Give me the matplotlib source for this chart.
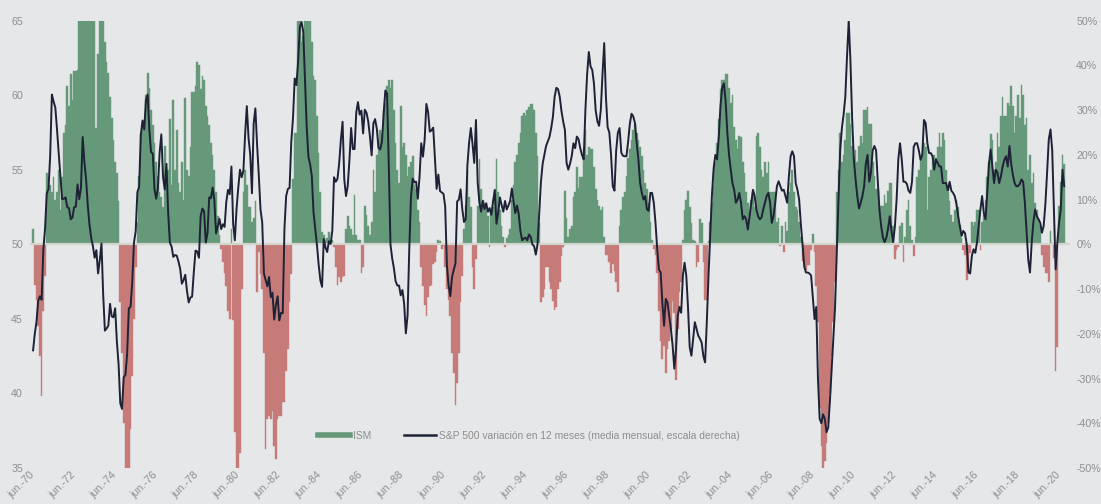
import numpy as np
import pandas as pd
import matplotlib
matplotlib.use("Agg")
import matplotlib.pyplot as plt
from matplotlib.lines import Line2D

plt.rcParams['font.family'] = ['Liberation Sans', 'DejaVu Sans']

# ---------------- data (monthly, Jun-1970 .. Sep-2020) ----------------
start_month = "1970-06"

ism = [
    51.0, 47.3, 46.3, 44.5, 42.5, 39.8, 45.5,                                  # 1970 (Jun-Dec)
    47.9, 54.8, 53.5, 54.0, 53.5, 54.5, 53.0, 53.5, 55.0, 52.3, 54.5, 57.5,    # 1971
    58.0, 60.6, 59.3, 61.4, 59.7, 61.6, 61.6, 61.7, 66.0, 67.0, 68.0, 68.0,    # 1972
    68.5, 69.0, 69.5, 68.0, 67.0, 66.0, 57.8, 62.8, 66.0, 67.0, 66.0, 63.6,    # 1973
    62.2, 61.5, 59.9, 58.5, 57.0, 55.5, 54.8, 52.9, 46.1, 42.7, 38.0, 33.0,    # 1974
    31.0, 33.0, 37.6, 41.2, 45.0, 48.5, 51.5, 54.6, 57.5, 58.0, 58.1, 60.0,    # 1975
    61.5, 60.5, 59.0, 58.0, 56.8, 55.5, 54.6, 53.5, 53.2, 52.5, 56.6, 54.5,    # 1976
    55.0, 58.4, 54.0, 59.7, 55.0, 57.7, 54.1, 53.5, 55.5, 53.0, 59.8, 55.0,    # 1977
    54.6, 56.5, 60.2, 60.2, 60.6, 62.2, 62.0, 60.4, 61.3, 61.0, 59.3, 58.6,    # 1978
    58.0, 56.8, 56.0, 55.0, 53.5, 51.9, 50.6, 49.7, 48.8, 48.1, 47.2, 45.5,    # 1979
    45.0, 51.0, 44.9, 37.4, 31.0, 32.0, 36.0, 47.0, 53.5, 55.0, 54.0, 52.5,    # 1980
    52.5, 51.5, 51.8, 52.9, 46.8, 49.5, 48.0, 47.0, 42.7, 36.3, 38.3, 38.5,    # 1981
    38.3, 38.8, 36.5, 35.6, 38.3, 38.5, 38.5, 39.4, 39.4, 41.5, 43.0, 46.1,    # 1982
    48.0, 54.4, 57.5, 57.5, 65.5, 66.0, 63.6, 64.0, 66.0, 68.0, 69.5, 69.9,    # 1983
    63.6, 61.3, 61.0, 58.6, 56.1, 53.5, 50.8, 50.6, 50.3, 50.4, 50.8, 50.3,    # 1984
    50.3, 49.8, 48.5, 47.3, 47.8, 47.5, 47.8, 47.9, 51.0, 51.9, 51.2, 51.0,    # 1985
    50.6, 53.3, 50.6, 50.3, 50.3, 48.1, 48.5, 52.6, 52.0, 51.2, 50.6, 51.5,    # 1986
    55.0, 53.5, 56.0, 57.0, 57.7, 57.5, 59.0, 59.5, 60.6, 61.0, 60.5, 61.0,    # 1987
    59.0, 56.8, 55.0, 54.1, 59.3, 56.5, 56.8, 56.0, 54.6, 55.2, 55.5, 55.9,    # 1988
    54.0, 53.7, 52.3, 51.5, 48.5, 47.2, 45.9, 45.2, 46.5, 47.2, 47.3, 48.7,    # 1989
    48.8, 49.5, 50.3, 50.2, 49.7, 49.9, 48.5, 47.0, 46.3, 45.2, 42.7, 41.4,    # 1990
    39.2, 40.7, 42.7, 46.1, 47.9, 51.0, 52.6, 55.0, 53.2, 52.5, 48.5, 47.0,    # 1991
    49.0, 52.6, 55.7, 53.7, 53.0, 52.8, 52.5, 51.9, 49.8, 52.3, 52.5, 53.7,    # 1992
    55.7, 53.5, 52.3, 51.2, 50.5, 49.8, 50.4, 50.6, 51.0, 53.0, 54.0, 55.5,    # 1993
    56.0, 56.8, 57.5, 58.6, 58.8, 58.6, 59.0, 59.2, 59.4, 59.4, 59.0, 57.5,    # 1994
    55.9, 51.4, 46.1, 46.5, 47.0, 48.5, 48.5, 47.5, 47.0, 46.2, 45.6, 45.8,    # 1995
    47.0, 47.5, 49.2, 49.8, 53.6, 51.8, 50.5, 51.0, 51.2, 53.2, 53.5, 55.2,    # 1996
    53.8, 54.5, 54.5, 56.4, 57.7, 56.0, 56.5, 56.4, 56.4, 55.2, 53.7, 53.0,    # 1997
    52.6, 52.3, 52.5, 50.5, 49.3, 49.3, 48.8, 48.1, 48.7, 48.2, 47.5, 46.8,    # 1998
    51.2, 52.3, 53.2, 53.5, 54.6, 55.8, 56.4, 57.0, 57.7, 58.1, 57.5, 57.0,    # 1999
    56.5, 55.9, 55.0, 54.1, 53.7, 52.8, 51.5, 50.3, 49.7, 49.3, 48.1, 45.5,    # 2000
    43.5, 42.3, 43.2, 41.4, 43.0, 43.5, 44.3, 46.2, 45.4, 40.9, 44.3, 46.8,    # 2001
    47.5, 50.3, 52.3, 53.0, 53.6, 52.5, 51.4, 50.3, 50.2, 48.5, 48.8, 51.7,    # 2002
    51.4, 48.8, 46.3, 46.3, 50.2, 51.5, 52.8, 54.0, 55.5, 56.8, 58.4, 60.4,    # 2003
    61.0, 61.0, 61.4, 61.4, 60.5, 59.5, 60.0, 57.9, 57.0, 56.4, 57.3, 57.2,    # 2004
    55.5, 54.8, 53.5, 52.8, 51.5, 53.0, 53.5, 52.5, 57.3, 57.5, 56.5, 55.0,    # 2005
    54.5, 55.5, 54.8, 55.5, 53.5, 53.5, 53.5, 53.5, 51.5, 51.8, 49.9, 51.2,    # 2006
    49.5, 51.5, 50.9, 53.5, 54.1, 55.0, 53.5, 52.5, 52.3, 51.5, 50.5, 48.9,    # 2007
    48.8, 48.3, 48.6, 48.6, 49.6, 50.7, 49.5, 47.2, 44.8, 39.0, 36.5, 33.0,    # 2008
    35.5, 36.7, 38.0, 40.0, 42.5, 44.8, 47.5, 53.5, 55.0, 57.5, 55.5, 56.0,    # 2009
    57.0, 58.8, 58.8, 58.1, 56.6, 55.9, 56.3, 55.5, 56.6, 57.3, 56.8, 59.0,    # 2010
    59.0, 59.2, 58.1, 58.1, 55.5, 54.6, 53.7, 53.7, 51.9, 52.6, 52.6, 53.3,    # 2011
    52.8, 53.6, 54.1, 54.1, 51.2, 49.0, 49.6, 49.8, 51.2, 51.4, 48.8, 50.5,    # 2012
    52.3, 53.0, 51.2, 50.3, 49.2, 50.5, 54.5, 55.0, 55.9, 55.9, 56.8, 56.5,    # 2013
    52.3, 54.5, 55.0, 55.5, 56.0, 55.8, 56.5, 57.5, 56.5, 57.5, 57.0, 55.0,    # 2014
    53.5, 52.9, 52.0, 51.5, 52.3, 53.0, 52.5, 51.3, 50.4, 49.6, 49.3, 47.6,    # 2015
    48.5, 49.4, 51.5, 51.2, 51.5, 52.3, 52.3, 49.6, 51.5, 52.0, 53.0, 54.5,    # 2016
    55.5, 57.4, 57.0, 55.0, 55.5, 57.5, 56.5, 58.6, 59.9, 58.6, 58.6, 59.5,    # 2017
    59.3, 60.6, 59.3, 57.5, 58.6, 60.0, 58.5, 60.7, 60.0, 58.0, 58.5, 55.0,    # 2018
    56.0, 54.1, 54.8, 52.8, 52.3, 51.8, 51.3, 49.3, 48.5, 48.1, 48.1, 47.5,    # 2019
    50.9, 50.1, 49.1, 41.5, 43.1, 52.6, 54.2, 56.0, 55.4,                      # 2020 (Jan-Sep)
]

sp500_yoy = [
    -23.7, -20.0, -17.3, -12.6, -11.6, -12.4, -1.2,                            # 1970
    3.5, 11.4, 12.3, 19.8, 33.5, 31.9, 30.6, 25.7, 20.3, 15.3, 10.1, 10.2,     # 1971
    10.5, 8.3, 8.1, 5.6, 6.0, 8.3, 8.4, 13.4, 10.1, 12.6, 24.0, 18.4,          # 1972
    14.6, 8.6, 4.4, 1.4, -0.4, -3.0, -1.3, -6.5, -3.5, 0.2, -11.3, -19.3,      # 1973
    -18.8, -18.2, -13.3, -16.1, -16.3, -14.3, -21.7, -26.8, -35.5, -36.8, -29.7, -29.2,  # 1974
    -24.5, -14.3, -14.0, -8.4, 0.4, 2.9, 11.7, 12.8, 24.4, 27.7, 25.7, 32.2,   # 1975
    33.5, 25.6, 20.6, 20.3, 12.3, 10.2, 12.6, 20.5, 24.6, 15.0, 12.3, 18.0,    # 1976
    7.0, 0.4, -0.5, -2.8, -2.4, -2.5, -3.8, -5.4, -8.8, -8.0, -6.8, -10.4,     # 1977
    -13.0, -11.9, -11.7, -6.2, -1.4, -1.6, -3.0, 6.3, 8.0, 7.4, 0.4, 2.5,      # 1978
    10.5, 10.3, 12.7, 9.9, 2.4, 4.1, 5.7, 3.4, 4.5, 3.9, 9.5, 12.2,            # 1979
    11.2, 17.4, 4.6, 0.9, 8.0, 12.7, 16.7, 15.0, 16.5, 24.6, 30.9, 23.8,       # 1980
    20.0, 11.4, 27.0, 30.4, 22.3, 15.4, 7.8, 4.9, -6.5, -8.0, -9.4, -7.3,      # 1981
    -11.8, -10.8, -16.8, -13.5, -11.6, -17.0, -15.3, -15.4, 3.5, 10.8, 12.4, 12.6,  # 1982
    23.0, 28.2, 37.1, 35.6, 40.9, 48.6, 49.7, 47.5, 36.6, 26.4, 19.6, 17.9,    # 1983
    15.3, 7.2, 3.6, -0.1, -4.5, -8.0, -9.5, 1.2, -0.7, -1.7, 0.7, 0.1,         # 1984
    3.1, 15.0, 14.0, 14.6, 18.1, 23.4, 27.4, 14.5, 10.8, 13.0, 18.8, 26.0,     # 1985
    21.3, 21.3, 29.5, 31.8, 29.0, 29.9, 24.8, 30.1, 29.4, 27.5, 24.1, 19.9,    # 1986
    27.0, 28.0, 25.9, 21.6, 21.2, 22.9, 29.1, 34.4, 33.7, 18.0, 0.0, -3.1,     # 1987
    -5.3, -8.2, -9.2, -9.2, -11.4, -10.2, -13.3, -19.9, -15.9, -1.0, 10.6, 14.7,  # 1988
    13.9, 14.0, 10.2, 15.1, 22.6, 19.6, 23.4, 31.4, 29.6, 25.2, 25.5, 26.1,    # 1989
    19.1, 12.4, 15.6, 11.9, 11.6, 11.3, 8.5, -4.6, -9.2, -11.6, -7.3, -5.7,    # 1990
    -4.3, 9.6, 10.0, 12.3, 7.9, 5.0, 5.6, 17.7, 22.8, 26.0, 22.4, 18.2,       # 1991
    27.8, 13.9, 9.4, 7.3, 9.7, 7.9, 9.2, 7.3, 8.1, 6.6, 9.6, 12.1,            # 1992
    4.6, 7.0, 10.5, 8.8, 7.3, 9.7, 7.8, 8.7, 9.7, 12.5, 9.5, 7.0,             # 1993
    8.7, 6.8, 3.0, 0.9, 1.3, 1.5, 0.9, 2.2, 1.7, 0.0, -0.4, -2.3,             # 1994
    0.0, 7.0, 14.0, 18.0, 20.0, 22.0, 23.0, 24.0, 26.0, 28.5, 33.0, 35.0,     # 1995
    34.7, 33.0, 29.8, 27.5, 25.6, 18.2, 16.7, 18.0, 19.7, 22.6, 21.5, 24.1,   # 1996
    23.5, 21.5, 20.0, 19.0, 30.0, 38.0, 43.0, 39.8, 39.0, 36.0, 30.0, 27.5,   # 1997
    26.5, 30.0, 38.0, 45.0, 33.0, 26.2, 25.0, 20.0, 13.0, 12.0, 21.0, 25.0,   # 1998
    26.0, 20.5, 19.8, 19.7, 19.7, 23.0, 27.0, 29.2, 28.6, 27.1, 22.6, 19.0,   # 1999
    13.7, 11.5, 10.0, 10.8, 7.8, 7.5, 11.5, 11.5, 9.3, 4.8, -1.1, -5.6,       # 2000
    -6.3, -13.0, -18.2, -12.2, -13.0, -16.0, -18.9, -22.6, -27.8, -23.4, -16.0, -14.0,  # 2001
    -15.3, -7.0, -4.1, -7.0, -14.0, -23.0, -24.9, -21.1, -17.4, -18.9, -20.4, -21.1,    # 2002
    -22.0, -25.0, -26.4, -17.4, -7.0, 1.9, 11.0, 17.0, 20.0, 19.0, 24.0, 31.0,  # 2003
    35.0, 36.0, 32.0, 25.0, 20.0, 16.7, 13.7, 12.2, 9.3, 10.0, 11.5, 9.3,     # 2004
    5.6, 6.3, 5.6, 3.3, 6.3, 9.3, 12.2, 10.8, 7.8, 6.3, 5.6, 6.0,             # 2005
    7.8, 9.3, 10.8, 11.5, 9.3, 4.8, 6.3, 9.3, 13.0, 14.1, 13.0, 12.0,         # 2006
    12.2, 10.8, 9.3, 15.2, 19.7, 20.8, 19.7, 13.7, 12.2, 10.0, 4.5, 0.0,      # 2007
    -5.0, -6.3, -6.3, -6.5, -7.0, -12.0, -16.7, -14.0, -30.0, -39.0, -40.0, -38.0,  # 2008
    -39.0, -42.0, -41.0, -35.0, -28.0, -21.0, -14.0, -2.0, 10.0, 21.0, 26.0, 29.0,  # 2009
    33.0, 42.0, 50.0, 41.0, 28.0, 19.0, 14.5, 10.8, 8.0, 9.3, 10.8, 13.0,     # 2010
    18.0, 20.0, 14.0, 16.0, 21.0, 22.0, 21.0, 14.0, 7.5, 4.0, 1.5, 0.5,       # 2011
    1.5, 3.5, 6.3, 3.0, 0.5, 4.0, 10.0, 19.0, 22.6, 19.0, 14.0, 14.0,         # 2012
    13.5, 12.0, 11.5, 14.0, 21.8, 22.6, 22.6, 21.0, 18.9, 20.0, 27.8, 27.1,   # 2013
    22.6, 20.4, 20.4, 19.7, 16.7, 19.0, 18.2, 17.4, 17.4, 13.7, 13.7, 13.7,   # 2014
    12.0, 14.0, 12.0, 11.5, 10.8, 9.0, 6.3, 4.0, 1.9, 3.0, 2.5, 0.0,          # 2015
    -6.3, -6.5, -2.6, -1.1, -1.9, 0.4, 4.1, 7.8, 10.8, 7.0, 5.6, 11.5,        # 2016
    18.0, 21.2, 17.4, 13.7, 16.7, 16.0, 13.7, 15.2, 17.4, 18.9, 19.7, 17.4,   # 2017
    22.0, 18.0, 15.5, 13.7, 13.0, 13.0, 13.5, 14.5, 14.0, 9.3, 3.0, -3.5,     # 2018
    -6.3, 0.4, 5.0, 7.8, 6.3, 5.6, 4.8, 2.6, 4.1, 9.0, 16.0, 23.5,            # 2019
    25.7, 21.0, 8.0, -5.6, 0.5, 4.8, 7.8, 16.7, 13.0,                         # 2020
]

left_ticks = [35, 40, 45, 50, 55, 60, 65]
right_ticks = [-50, -40, -30, -20, -10, 0, 10, 20, 30, 40, 50]
series_labels = ["ISM", "S&P 500 variación en 12 meses (media mensual, escala derecha)"]
ism_threshold = 50

assert len(ism) == len(sp500_yoy), (len(ism), len(sp500_yoy))

# ---------------- styling ----------------
BG = "#e6e7e9"
GREEN = "#66987a"
RED = "#c77b79"
LINE = "#1e2236"
AXIS = "#d2d5cb"
TXT = "#8e8e8e"

dates = pd.date_range(start_month, periods=len(ism), freq="MS")
x = np.arange(len(dates))
vals = np.array(ism)
cols = np.where(vals >= ism_threshold, GREEN, RED)

W, H = 1101, 504
fig = plt.figure(figsize=(W / 100, H / 100), dpi=100, facecolor=BG)
ax = fig.add_axes([30 / W, 36 / H, 1040 / W, 447.3 / H])
ax.set_facecolor(BG)

ax.bar(x, vals - ism_threshold, bottom=ism_threshold, width=1.0,
       color=cols, edgecolor=cols, linewidth=0.3, zorder=2)
ax.axhline(ism_threshold, color=AXIS, lw=1.6, zorder=3)
ax.set_ylim(left_ticks[0], left_ticks[-1])
ax.set_xlim(-1.8, len(x) + 2.4)

ax.set_yticks(left_ticks)
ax.set_yticklabels([str(t) for t in left_ticks])
ax.tick_params(axis='y', length=0, pad=5, labelsize=7.7, labelcolor=TXT)

tick_idx = [i for i, d in enumerate(dates) if d.month == 6 and d.year % 2 == 0]
ax.set_xticks(tick_idx)
ax.set_xticklabels([f"jun.-{dates[i].year % 100:02d}" for i in tick_idx],
                   rotation=45, ha='right', va='center', rotation_mode='anchor')
ax.tick_params(axis='x', length=0, pad=4, labelsize=7.7, labelcolor=TXT)

ax2 = ax.twinx()
ax2.plot(x, sp500_yoy, color=LINE, lw=1.4, zorder=4)
ax2.set_ylim(right_ticks[0], right_ticks[-1])
ax2.set_yticks(right_ticks)
ax2.set_yticklabels([f"{t}%" for t in right_ticks])
ax2.tick_params(axis='y', length=0, pad=4.5, labelsize=7.7, labelcolor=TXT)

for a in (ax, ax2):
    for s in a.spines.values():
        s.set_visible(False)

handles = [Line2D([], [], color=GREEN, lw=4), Line2D([], [], color=LINE, lw=1.8)]
fig.legend(handles, series_labels, loc='center left',
           bbox_to_anchor=(318 / W, 1 - 436 / H), ncol=2, frameon=False,
           fontsize=7.4, labelcolor=TXT, handlelength=3.1, handletextpad=0.3,
           columnspacing=3.2, borderpad=0, borderaxespad=0)

fig.savefig("out.png", dpi=100, facecolor=BG)
